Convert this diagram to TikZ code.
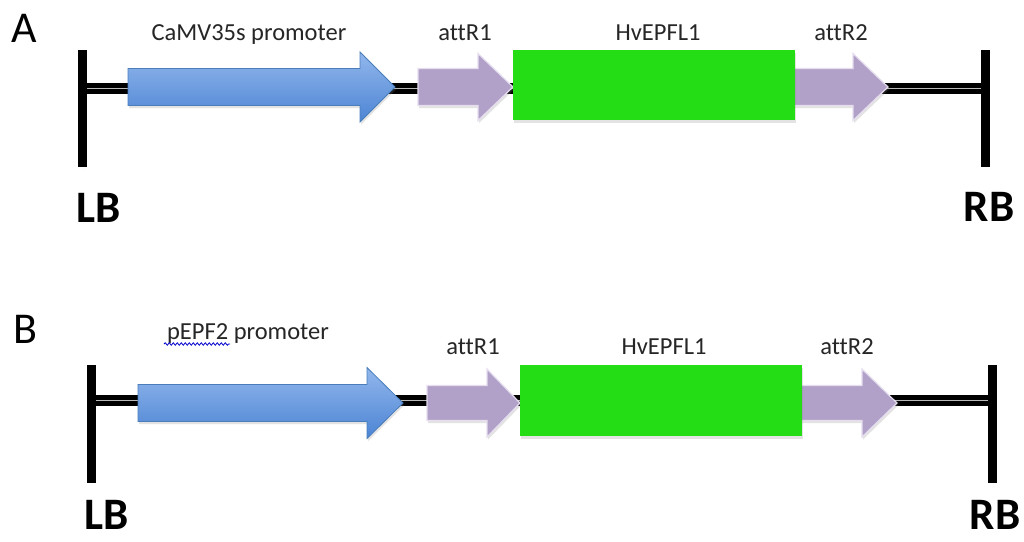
\documentclass[tikz,border=0pt]{standalone}
\usepackage{fontspec}
\setmainfont{Carlito}[Ligatures={NoCommon}]
\usetikzlibrary{shadows,decorations.pathmorphing}
\definecolor{lav}{HTML}{B1A1C8}
\definecolor{lavedge}{HTML}{E6DEEF}
\definecolor{gfp}{HTML}{25DD14}
\definecolor{bluetop}{HTML}{92B7EC}
\definecolor{bluebot}{HTML}{4C84D4}
\definecolor{blueedge}{HTML}{4A7EBB}
\definecolor{txt}{HTML}{262626}
\newcommand\genearrow[7]{%
  \path[#1] (#2,{#5-#6}) -- (#3,{#5-#6}) -- (#3,{#5-#7}) -- (#4,#5)
     -- (#3,{#5+#7}) -- (#3,{#5+#6}) -- (#2,{#5+#6}) -- cycle;}
\tikzset{
  shad/.style={drop shadow={opacity=0.22,shadow xshift=1pt,shadow yshift=-2.5pt}},
  promoterarrow/.style={shad,draw=blueedge,line width=0.8pt,top color=bluetop,bottom color=bluebot},
  attarrow/.style={shad,fill=lav,draw=lavedge,line width=1.2pt},
  genebox/.style={shad,fill=gfp},
  border/.style={line width=9pt},
  backbone/.style={line width=11pt},
  backmid/.style={line width=1pt,gray!55},
  lbl/.style={anchor=base,inner sep=0pt,text=txt,font=\fontsize{24.5}{28}\selectfont},
  panel/.style={anchor=base,inner sep=0pt,text=black,font=\fontsize{44}{50}\selectfont},
  bordertxt/.style={anchor=base,inner sep=0pt,text=black,font=\fontsize{45}{50}\selectfont\bfseries},
}
\begin{document}
\begin{tikzpicture}[x=1pt,y=-1pt]
\useasboundingbox[fill=white] (0,0) rectangle (1024,541);
% ---------------- Panel A ----------------
\coordinate (lbA) at (82,88);
\coordinate (rbA) at (985,88);
\draw[backbone] (lbA) -- (rbA);
\draw[backmid] (lbA) -- (rbA);
\draw[border,shad] (82,50) -- (82,167);
\draw[border,shad] (985,50) -- (985,167);
\genearrow{promoterarrow}{128}{360}{395}{87}{18.5}{35}
\genearrow{attarrow}{418}{478}{513}{87}{18.5}{33.5}
\genearrow{attarrow}{790}{853}{888}{87}{18.5}{33.5}
\path[genebox] (513,50) rectangle (795,120);
\node[panel] (A) at (24,42) {A};
\node[lbl] (promA) at (249,40) {CaMV35s promoter};
\node[lbl] (att1A) at (465,40) {attR1};
\node[lbl] (geneA) at (658,40) {HvEPFL1};
\node[lbl] (att2A) at (841,40) {attR2};
\node[bordertxt] (LBA) at (99,222) {LB};
\node[bordertxt] (RBA) at (989,221) {RB};
% ---------------- Panel B ----------------
\coordinate (lbB) at (91,400);
\coordinate (rbB) at (992,400);
\draw[backbone] (lbB) -- (rbB);
\draw[backmid] (lbB) -- (rbB);
\draw[border,shad] (91,365) -- (91,483);
\draw[border,shad] (992,365) -- (992,483);
\genearrow{promoterarrow}{138}{367}{403}{403}{18.5}{35.5}
\genearrow{attarrow}{427}{487}{520}{403}{17.5}{34}
\genearrow{attarrow}{797}{862}{897}{403}{17.5}{34}
\path[genebox] (520,365) rectangle (802,436);
\node[panel] (B) at (25,343) {B};
\node[lbl] (promB) at (248,339) {pEPF2 promoter};
\draw[blue!80!black,line width=0.8pt,decorate,decoration={snake,segment length=4pt,amplitude=1.2pt}] (164,344) -- (230,344);
\node[lbl] (att1B) at (473,354) {attR1};
\node[lbl] (geneB) at (664,354) {HvEPFL1};
\node[lbl] (att2B) at (847,354) {attR2};
\node[bordertxt] (LBB) at (107,529) {LB};
\node[bordertxt] (RBB) at (995,529) {RB};
\end{tikzpicture}
\end{document}
